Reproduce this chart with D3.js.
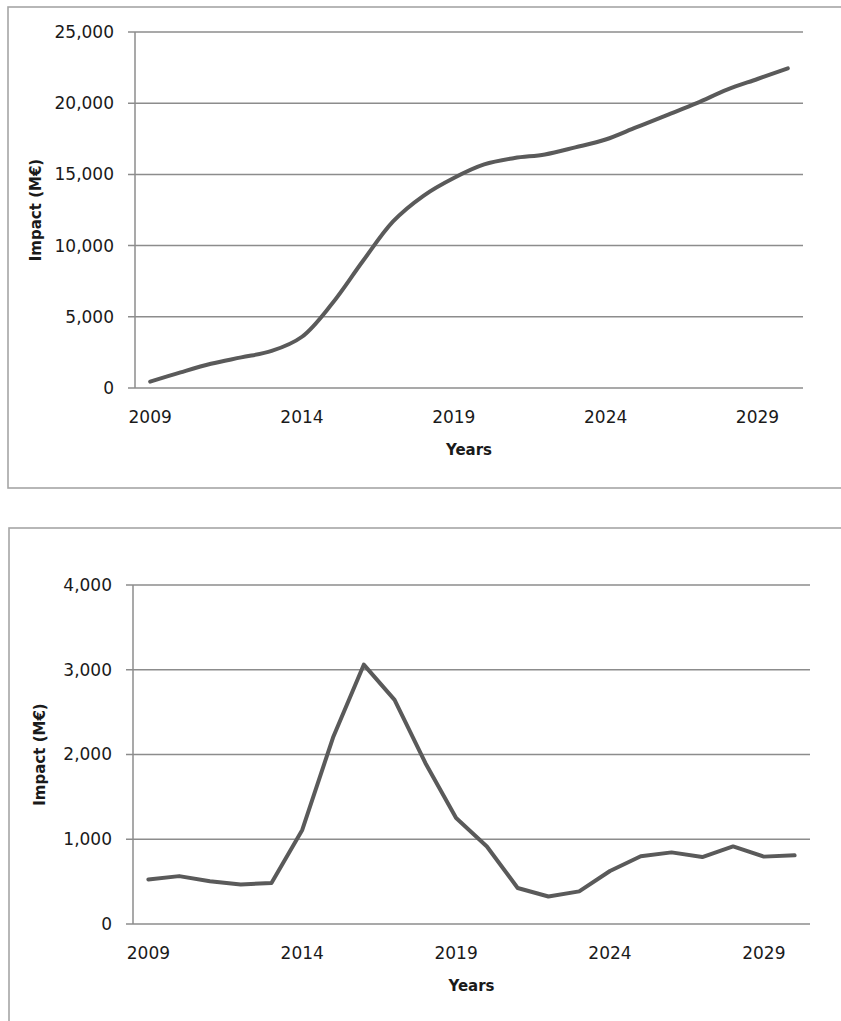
<!DOCTYPE html>
<html>
<head>
<meta charset="utf-8">
<script src="https://cdn.jsdelivr.net/npm/d3@7"></script>
<style>
body { margin: 0; background: #fff; }
text { font-family: "DejaVu Sans", Verdana, sans-serif; fill: #1a1a1a; }
</style>
</head>
<body>
<script>
var years = d3.range(2009, 2031);
var yearLabels = [2009, 2014, 2019, 2024, 2029];

// top chart: cumulative impact
var cumulativeImpact = [450, 1100, 1700, 2150, 2600, 3600, 5950, 8900, 11700, 13500, 14750,
    15700, 16150, 16400, 16900, 17450, 18300, 19150, 20000, 20950, 21700, 22450];
var cumulativeTicks = [0, 5000, 10000, 15000, 20000, 25000];

// bottom chart: yearly impact
var annualImpact = [525, 565, 505, 465, 485, 1110, 2200, 3060, 2645, 1900, 1250,
    915, 425, 325, 385, 625, 800, 845, 790, 915, 795, 810];
var annualTicks = [0, 1000, 2000, 3000, 4000];

var width = 841,
    height = 1021;

var svg = d3.select('body')
    .append('svg')
    .attr('width', width)
    .attr('height', height);

function drawChart(opt) {
    var g = svg.append('g');

    // outer frame
    g.append('rect')
        .attr('x', opt.box[0])
        .attr('y', opt.box[1])
        .attr('width', opt.box[2])
        .attr('height', opt.box[3])
        .attr('fill', 'none')
        .attr('stroke', '#a6a6a6')
        .attr('stroke-width', 1.6);

    var x = d3.scaleBand()
        .domain(years)
        .range([opt.left, opt.right]);

    var y = d3.scaleLinear()
        .domain([0, d3.max(opt.ticks)])
        .range([opt.bottom, opt.top]);

    // gridlines
    g.selectAll('line.grid')
        .data(opt.ticks)
        .enter()
        .append('line')
        .attr('class', 'grid')
        .attr('x1', opt.left - 7)
        .attr('x2', opt.right)
        .attr('y1', d => y(d))
        .attr('y2', d => y(d))
        .attr('stroke', '#8c8c8c')
        .attr('stroke-width', 1.5);

    // y axis line
    g.append('line')
        .attr('x1', opt.left).attr('x2', opt.left)
        .attr('y1', opt.top).attr('y2', opt.bottom)
        .attr('stroke', '#8c8c8c')
        .attr('stroke-width', 1.5);

    g.selectAll('text.ytick')
        .data(opt.ticks)
        .enter()
        .append('text')
        .attr('class', 'ytick')
        .attr('x', opt.left - 21)
        .attr('y', d => y(d))
        .attr('dy', '0.35em')
        .attr('text-anchor', 'end')
        .style('font-size', '17px')
        .text(d3.format(','));

    g.selectAll('text.xtick')
        .data(yearLabels)
        .enter()
        .append('text')
        .attr('class', 'xtick')
        .attr('x', d => x(d) + x.bandwidth() / 2)
        .attr('y', opt.bottom + 35)
        .attr('text-anchor', 'middle')
        .style('font-size', '17px')
        .text(d => d);

    g.append('text')
        .attr('x', (opt.left + opt.right) / 2)
        .attr('y', opt.bottom + 67)
        .attr('text-anchor', 'middle')
        .style('font-size', '15px')
        .style('font-weight', 'bold')
        .text('Years');

    g.append('text')
        .attr('transform', 'translate(' + opt.ylabelX + ',' + (opt.top + opt.bottom) / 2 + ') rotate(-90)')
        .attr('text-anchor', 'middle')
        .attr('dy', '0.35em')
        .style('font-size', '15px')
        .style('font-weight', 'bold')
        .text('Impact (M€)');

    var line = d3.line()
        .x((d, i) => x(years[i]) + x.bandwidth() / 2)
        .y(d => y(d))
        .curve(opt.curve);

    g.append('path')
        .datum(opt.values)
        .attr('fill', 'none')
        .attr('stroke', '#5a5a5a')
        .attr('stroke-width', 4)
        .attr('stroke-linejoin', 'round')
        .attr('stroke-linecap', 'round')
        .attr('d', line);
}

drawChart({
    box: [8, 7, 850, 481],
    left: 135, right: 803, top: 32, bottom: 388,
    ticks: cumulativeTicks,
    values: cumulativeImpact,
    ylabelX: 36,
    curve: d3.curveCatmullRom.alpha(0.5)
});

drawChart({
    box: [9, 528, 850, 520],
    left: 133, right: 810, top: 585, bottom: 924,
    ticks: annualTicks,
    values: annualImpact,
    ylabelX: 40,
    curve: d3.curveLinear
});
</script>
</body>
</html>
